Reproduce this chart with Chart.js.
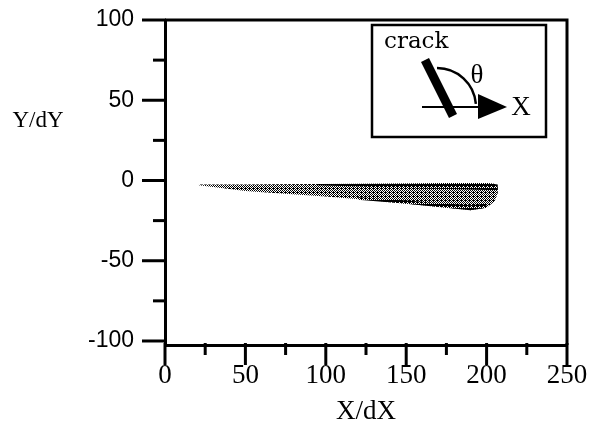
<!DOCTYPE html>
<html>
<head>
<meta charset="utf-8">
<script src="https://cdn.jsdelivr.net/npm/chart.js@4/dist/chart.umd.min.js"></script>
<style>
  body { margin: 0; background: #fff; }
  #wrap { width: 592px; height: 425px; }
</style>
</head>
<body>
<div id="wrap"><canvas id="myChart"></canvas></div>
<script>
// crack outline (X/dX along the crack, Y/dY upper and lower edge)
var crackX     = [21, 30, 50, 70, 100, 130, 155, 175, 190, 200, 205, 207];
var crackUpper = [-2.5, -2.5, -2.5, -2.4, -2.2, -2, -1.8, -1.6, -1.5, -1.5, -2, -3.5];
var crackLower = [-3, -4, -6.5, -8, -10, -12.5, -15, -17, -18.5, -17, -13, -8];
// darker band along the top edge
var bandX      = [95, 130, 160, 185, 200, 207];
var bandTop    = [-2.2, -2, -1.8, -1.6, -1.5, -2.5];
var bandBottom = [-3, -4, -5, -5.5, -6, -6];
// darker band along the bottom edge
var lowX       = [120, 150, 175, 190, 200];
var lowTop     = [-10.5, -12.5, -14.5, -15.5, -14.5];
var lowBottom  = [-12, -14.5, -17, -18.5, -17];

var xTicks = [0, 25, 50, 75, 100, 125, 150, 175, 200, 225, 250];
var yTicks = [-100, -75, -50, -25, 0, 25, 50, 75, 100];

// stipple patterns for the grey fill
function makePattern(dots) {
    var c = document.createElement('canvas');
    c.width = 4; c.height = 4;
    var g = c.getContext('2d');
    g.fillStyle = '#000';
    dots.forEach(function (d) { g.fillRect(d[0], d[1], 1, 1); });
    return g.createPattern(c, 'repeat');
}
var lightDots = makePattern([[0,0],[2,0],[1,1],[3,1],[0,2],[2,2],[1,3],[3,3],[1,0]]);
var darkDots = makePattern([[0,0],[1,0],[2,0],[3,0],[0,1],[1,1],[2,1],[3,1],[0,2],[1,2],[2,2],[1,3],[3,3]]);

function pts(xs, ys) {
    return xs.map(function (x, i) { return { x: x, y: ys[i] }; });
}

// frame, tick marks, y title and the inset sketch
var decorPlugin = {
    id: 'decor',
    afterDraw: function (chart) {
        var ctx = chart.ctx;
        var ca = chart.chartArea;
        var xs = chart.scales.x, ys = chart.scales.y;
        ctx.save();
        ctx.strokeStyle = '#000';
        ctx.lineWidth = 3;
        ctx.beginPath();
        ctx.moveTo(ca.left, ca.top);
        ctx.lineTo(ca.right, ca.top);
        ctx.lineTo(ca.right, ca.bottom);
        ctx.stroke();
        // tick marks, long on labelled values
        xTicks.forEach(function (v) {
            var px = xs.getPixelForValue(v);
            var len = v % 50 === 0 ? 20 : 10;
            ctx.beginPath();
            ctx.moveTo(px, ca.bottom - 2);
            ctx.lineTo(px, ca.bottom + len);
            ctx.stroke();
        });
        yTicks.forEach(function (v) {
            var py = ys.getPixelForValue(v);
            var len = v % 50 === 0 ? 23 : 12;
            ctx.beginPath();
            ctx.moveTo(ca.left + 1, py);
            ctx.lineTo(ca.left - len, py);
            ctx.stroke();
        });
        // y title sits horizontally at the top left
        ctx.fillStyle = '#000';
        ctx.font = '23px "Liberation Serif"';
        ctx.textAlign = 'center';
        ctx.textBaseline = 'middle';
        ctx.fillText('Y/dY', 38, 121);

        // inset
        ctx.lineWidth = 2.5;
        ctx.strokeRect(372, 25, 174, 112);
        ctx.font = '23px "DejaVu Serif"';
        ctx.textAlign = 'left';
        ctx.textBaseline = 'alphabetic';
        ctx.fillText('crack', 384, 48);
        ctx.font = '27px "Liberation Serif"';
        ctx.textAlign = 'center';
        ctx.textBaseline = 'middle';
        ctx.fillText('\u03B8', 477, 76);
        ctx.fillText('X', 521, 108);
        // axis line and arrow
        ctx.lineWidth = 2;
        ctx.beginPath();
        ctx.moveTo(422, 107);
        ctx.lineTo(480, 107);
        ctx.stroke();
        ctx.beginPath();
        ctx.moveTo(478, 94);
        ctx.lineTo(507, 107);
        ctx.lineTo(478, 119);
        ctx.closePath();
        ctx.fill();
        // angle arc
        ctx.lineWidth = 2.5;
        ctx.beginPath();
        ctx.arc(437, 107, 39, -Math.PI / 2, -0.08);
        ctx.stroke();
        // the crack itself
        ctx.lineWidth = 9;
        ctx.lineCap = 'butt';
        ctx.beginPath();
        ctx.moveTo(425, 60);
        ctx.lineTo(453, 116);
        ctx.stroke();
        ctx.restore();
    }
};

var ctx = document.getElementById('myChart').getContext('2d');
var myChart = new Chart(ctx, {
    type: 'line',
    data: {
        datasets: [
            { data: pts(crackX, crackUpper), borderWidth: 0, pointRadius: 0, fill: false },
            { data: pts(crackX, crackLower), borderWidth: 0, pointRadius: 0, fill: '-1', backgroundColor: lightDots },
            { data: pts(bandX, bandTop), borderWidth: 0, pointRadius: 0, fill: false },
            { data: pts(bandX, bandBottom), borderWidth: 0, pointRadius: 0, fill: '-1', backgroundColor: darkDots },
            { data: pts(lowX, lowTop), borderWidth: 0, pointRadius: 0, fill: false },
            { data: pts(lowX, lowBottom), borderWidth: 0, pointRadius: 0, fill: '-1', backgroundColor: darkDots }
        ]
    },
    options: {
        responsive: true,
        maintainAspectRatio: false,
        animation: false,
        layout: { padding: { top: 20, right: 25, left: 0, bottom: 0 } },
        elements: { line: { tension: 0 } },
        scales: {
            x: {
                type: 'linear',
                min: 0,
                max: 250,
                afterBuildTicks: function (scale) {
                    scale.ticks = xTicks.map(function (v) { return { value: v }; });
                },
                afterFit: function (scale) {
                    scale.height = 80;
                    scale.paddingLeft = 0;
                    scale.paddingRight = 0;
                },
                grid: { display: false, drawTicks: false },
                border: { display: true, color: '#000', width: 3 },
                ticks: {
                    autoSkip: false,
                    maxRotation: 0,
                    padding: 15,
                    color: '#000',
                    font: { family: 'Liberation Serif', size: 27 },
                    callback: function (v) { return v % 50 === 0 ? String(v) : ''; }
                },
                title: {
                    display: true,
                    text: 'X/dX',
                    color: '#000',
                    padding: 0,
                    font: { family: 'Liberation Serif', size: 27, lineHeight: 1 }
                }
            },
            y: {
                min: -102.5,
                max: 100,
                afterBuildTicks: function (scale) {
                    scale.ticks = yTicks.map(function (v) { return { value: v }; });
                },
                afterFit: function (scale) {
                    scale.width = 165;
                    scale.paddingTop = 0;
                    scale.paddingBottom = 0;
                },
                grid: { display: false, drawTicks: false },
                border: { display: true, color: '#000', width: 3 },
                ticks: {
                    autoSkip: false,
                    padding: 31,
                    color: '#000',
                    font: { family: 'Liberation Sans', size: 23 },
                    callback: function (v) { return v % 50 === 0 ? String(v) : ''; }
                }
            }
        },
        plugins: {
            legend: { display: false },
            tooltip: { enabled: false }
        }
    },
    plugins: [decorPlugin]
});
</script>
</body>
</html>
